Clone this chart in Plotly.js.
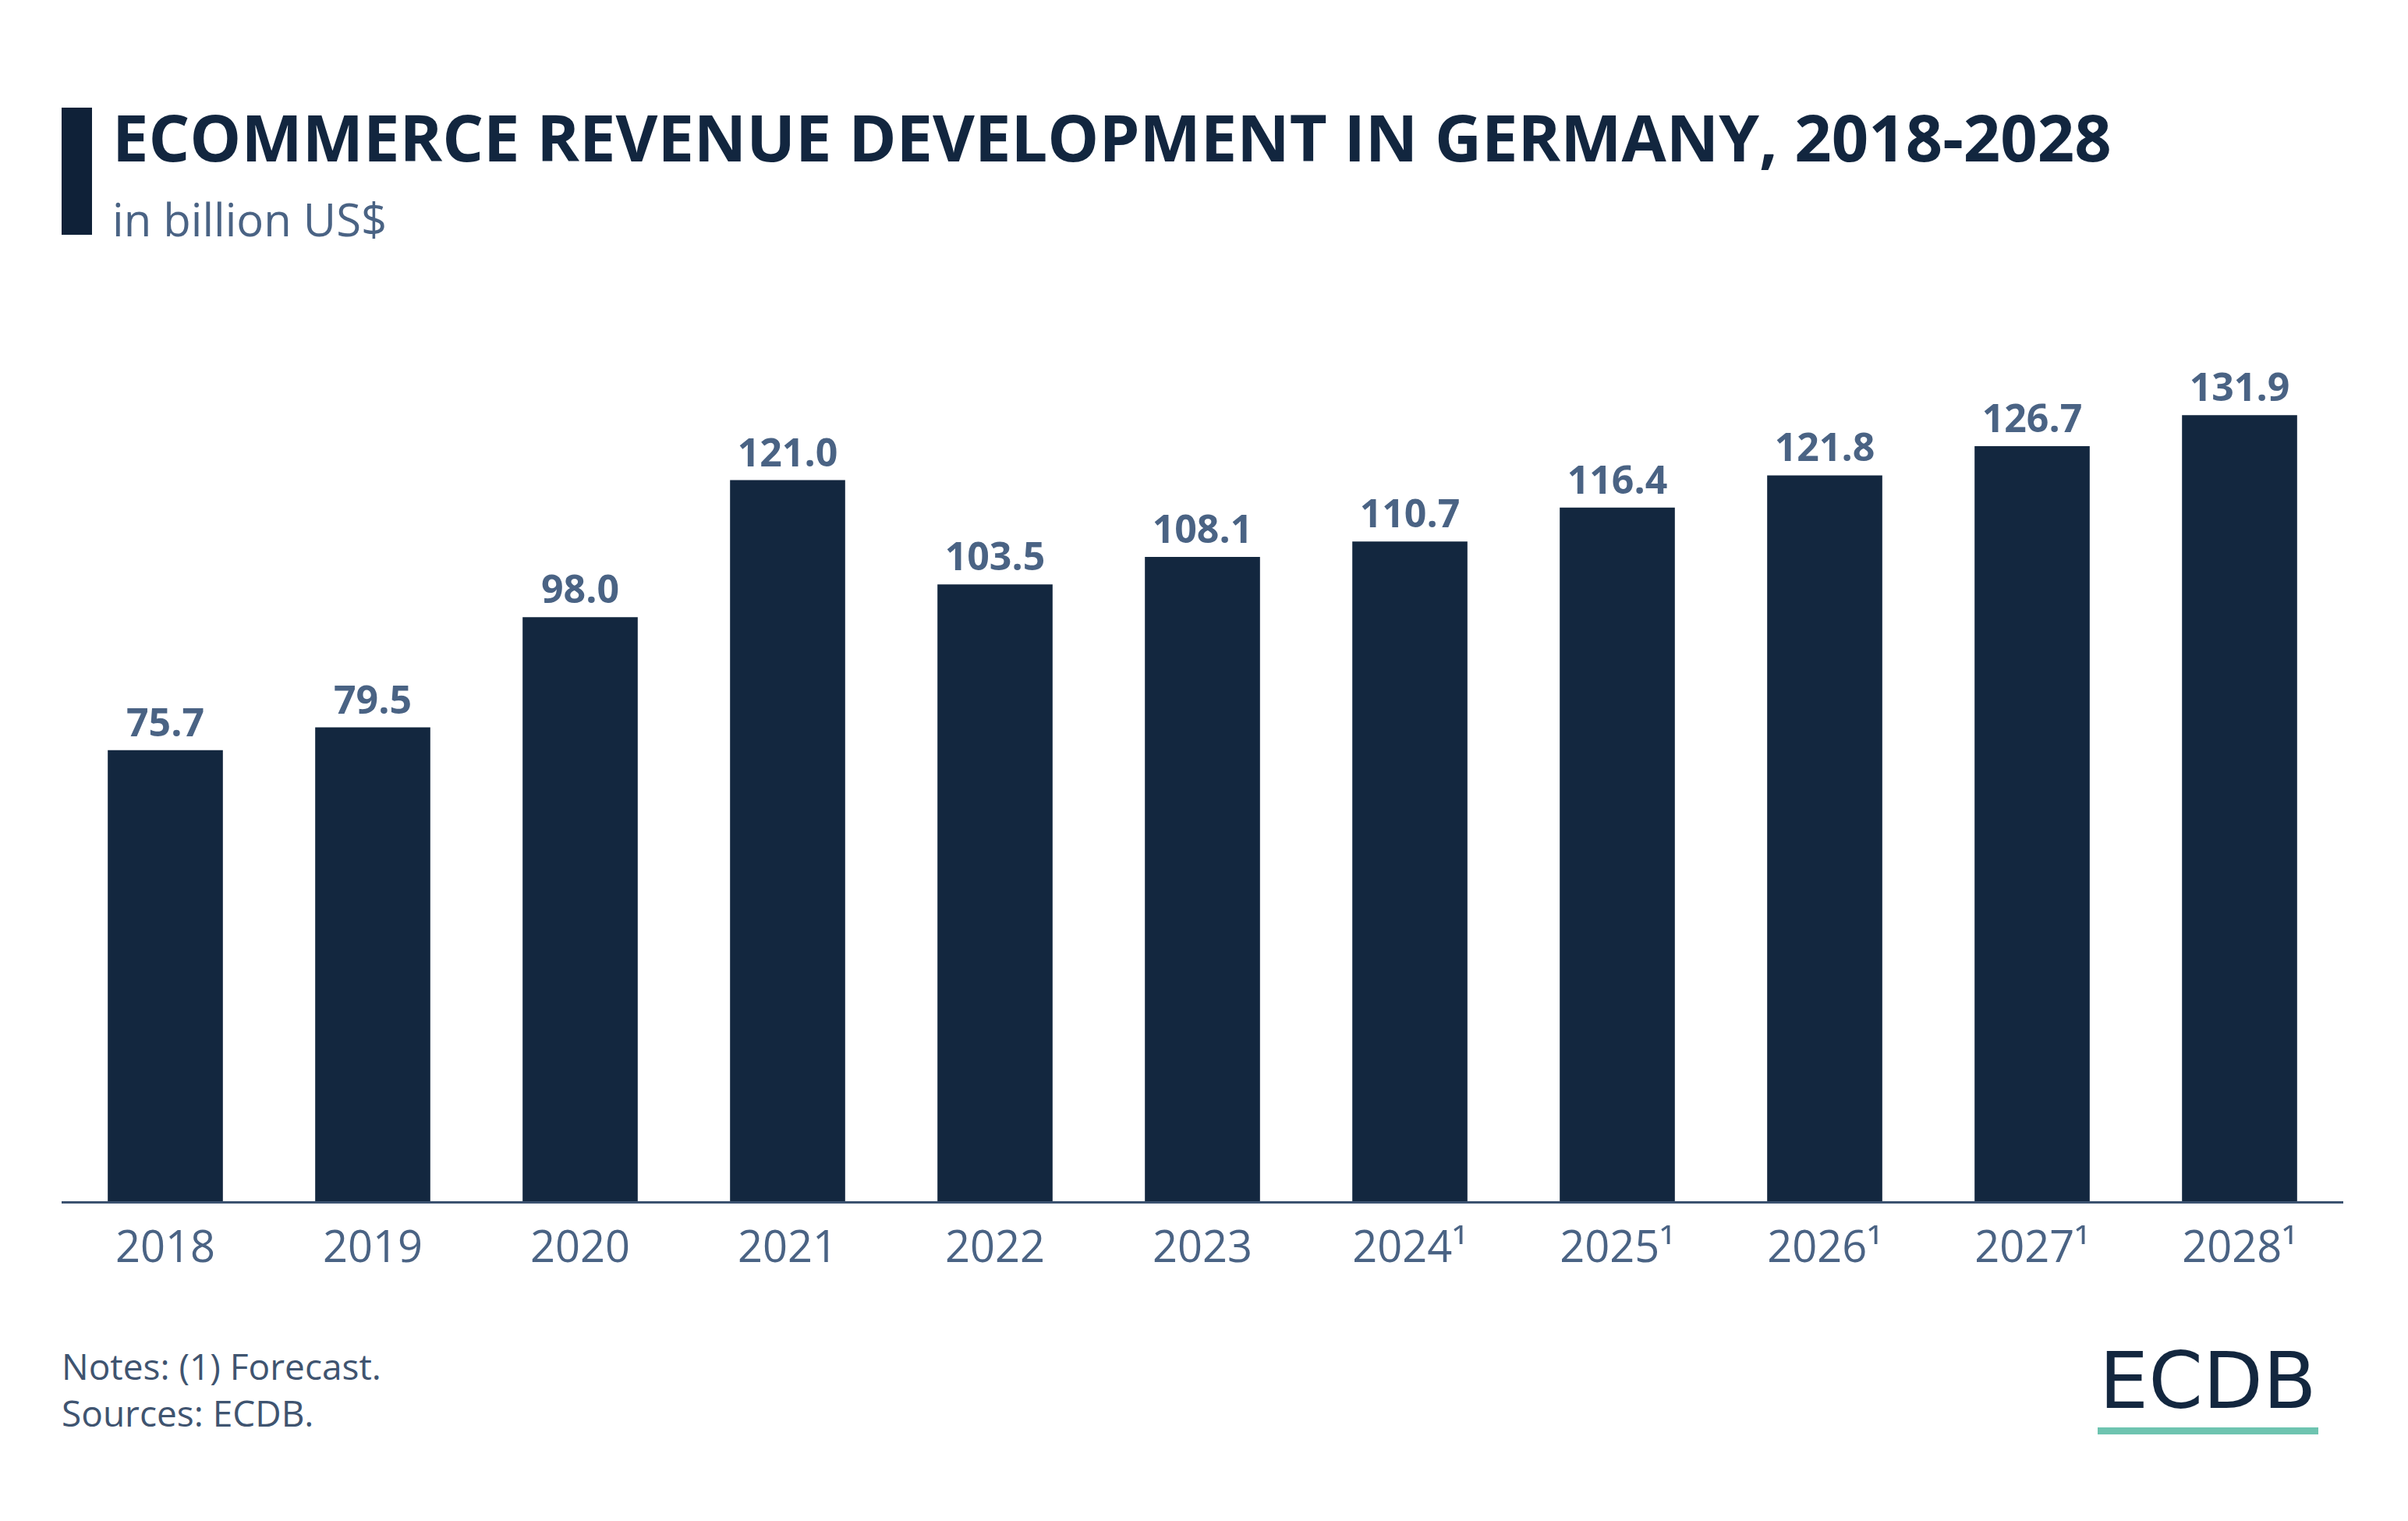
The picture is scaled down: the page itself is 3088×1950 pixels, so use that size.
<!DOCTYPE html>
<html>
<head>
<meta charset="utf-8">
<script src="https://cdn.plot.ly/plotly-3.0.1.min.js"></script>
<style>
  html, body { margin: 0; padding: 0; background: #ffffff; }
  #chart { width: 3088px; height: 1950px; }
</style>
</head>
<body>
<div id="chart"></div>
<script>
// ---- Data ----
const years = ["2018", "2019", "2020", "2021", "2022", "2023", "2024¹", "2025¹", "2026¹", "2027¹", "2028¹"];
const revenue = [75.7, 79.5, 98.0, 121.0, 103.5, 108.1, 110.7, 116.4, 121.8, 126.7, 131.9];

const titleText = "ECOMMERCE REVENUE DEVELOPMENT IN GERMANY, 2018-2028";
const subtitleText = "in billion US$";
const notesText = "Notes: (1) Forecast.<br>Sources: ECDB.";
const logoText = "ECDB";

// ---- Layout geometry (pixels) ----
const W = 3088, H = 1950;
const M = { l: 79, r: 83, t: 300, b: 410 };
const PW = W - M.l - M.r, PH = H - M.t - M.b;
const px = x => (x - M.l) / PW;
const py = y => (H - M.b - y) / PH;

const NAVY = "#13273f";
const SLATE = "#4a6384";
const FONT = "Open Sans, Noto Sans, sans-serif";

const trace = {
  type: "bar",
  x: years,
  y: revenue,
  marker: { color: NAVY, line: { width: 0 } },
  text: revenue.map(v => v.toFixed(1)),
  textposition: "outside",
  textfont: { family: FONT, size: 50, color: SLATE, weight: 700 },
  cliponaxis: false,
  hoverinfo: "skip"
};

const layout = {
  width: W,
  height: H,
  margin: M,
  paper_bgcolor: "#ffffff",
  plot_bgcolor: "#ffffff",
  showlegend: false,
  bargap: 0.445,
  xaxis: {
    type: "category",
    showline: true,
    linecolor: "#3b5270",
    linewidth: 3,
    ticks: "",
    showgrid: false,
    zeroline: false,
    tickfont: { family: FONT, size: 56, color: SLATE },
    ticklabelstandoff: 8
  },
  yaxis: {
    range: [0, PH / 7.64],
    visible: false,
    showgrid: false,
    zeroline: false
  },
  shapes: [
    { type: "rect", xref: "paper", yref: "paper",
      x0: px(79), x1: px(118), y0: py(301), y1: py(138),
      fillcolor: "#0f2138", line: { width: 0 } },
    { type: "rect", xref: "paper", yref: "paper",
      x0: px(2690), x1: px(2973), y0: py(1839), y1: py(1830),
      fillcolor: "#6ec4b0", line: { width: 0 } }
  ],
  annotations: [
    { text: titleText, xref: "paper", yref: "paper", x: px(142), y: py(174),
      xanchor: "left", yanchor: "middle", showarrow: false,
      font: { family: FONT, size: 83, color: "#12263f", weight: 700 } },
    { text: subtitleText, xref: "paper", yref: "paper", x: px(142), y: py(281),
      xanchor: "left", yanchor: "middle", showarrow: false,
      font: { family: FONT, size: 58, color: SLATE } },
    { text: notesText, xref: "paper", yref: "paper", x: px(77), y: py(1781),
      xanchor: "left", yanchor: "middle", align: "left", showarrow: false,
      font: { family: FONT, size: 46, color: "#3f5470" } },
    { text: logoText, xref: "paper", yref: "paper", x: px(2831), y: py(1770),
      xanchor: "center", yanchor: "middle", showarrow: false,
      font: { family: "DejaVu Sans, Inter, sans-serif", size: 100, color: NAVY, weight: 400 } }
  ]
};

Plotly.newPlot("chart", [trace], layout, { staticPlot: true, displayModeBar: false });
</script>
</body>
</html>
